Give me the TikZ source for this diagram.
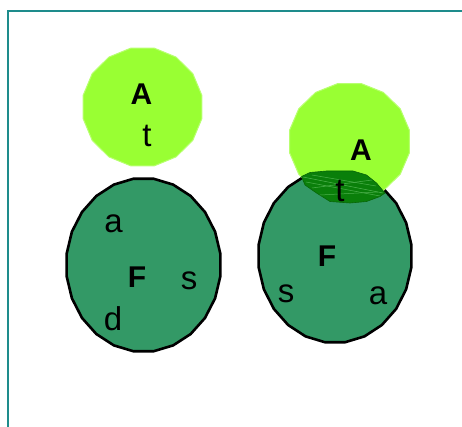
\documentclass[tikz,border=0pt]{standalone}
\usepackage{fontspec}
\setmainfont{Liberation Sans}
\definecolor{lime}{HTML}{99FF33}
\definecolor{limeedge}{HTML}{B8FF70}
\definecolor{fgreen}{HTML}{339966}
\definecolor{lensgreen}{HTML}{0A7F0A}
\definecolor{lensline}{HTML}{4CB04C}
\definecolor{frame}{HTML}{1E8C8C}
\begin{document}
\begin{tikzpicture}[x=1pt,y=-1pt,
  setA/.style={fill=lime,draw=limeedge,line width=1pt,line join=round},
  setF/.style={fill=fgreen,draw=black,line width=2.6pt,line join=round},
  lbl/.style={anchor=base,inner sep=0pt,font=\fontsize{33}{40}\selectfont},
  bold/.style={anchor=base,inner sep=0pt,font=\fontsize{30}{36}\selectfont\bfseries}]
\useasboundingbox (0,0) rectangle (462,427);
\draw[frame,line width=1.6pt] (8,427) -- (8,11) -- (462,11);
% left pair
\path[setA] plot[domain=11.25:371.25,samples=17] ({142.5+60.5*cos(\x)},{107+60*sin(\x)}) -- cycle;
\path[setF] plot[domain=7.5:367.5,samples=25] ({143.5+77.5*cos(\x)},{265+87*sin(\x)}) -- cycle;
\node[bold] (A1) at (141.5,105) {A};
\node[lbl] (t1) at (147,147) {t};
\node[lbl] (a1) at (113.5,233) {a};
\node[bold] (F1) at (137,287) {F};
\node[lbl] (s1) at (189,289) {s};
\node[lbl] (d1) at (113,330) {d};
% right pair
\path[setF] plot[domain=7.5:367.5,samples=25] ({335+77*cos(\x)},{256+87*sin(\x)}) -- cycle;
\path[setA] plot[domain=11.25:371.25,samples=17] ({349.5+61*cos(\x)},{141.5+59*sin(\x)}) -- cycle;
\path[fill=lensgreen,draw=lensgreen!80!black,line width=0.6pt,line join=round]
  (301.5,176.5) -- (310,172.5) -- (326.5,171) -- (353,171) -- (366.5,175) -- (376.5,183) -- (385,193) -- (380,196.5) -- (366.5,201.5) -- (350,203) -- (330,201.5) -- (316.5,193) -- (305,185) -- cycle;
\draw[lensline,line width=0.5pt] (303,177) -- (383,193);
\draw[lensline,line width=0.5pt] (306,182) -- (380,196);
\draw[lensline,line width=0.5pt] (312,175) -- (376,186);
\draw[lensline,line width=0.5pt] (312,188) -- (372,180);
\draw[lensline,line width=0.5pt] (320,195) -- (378,192);
\node[bold] (A2) at (361,161) {A};
\node[lbl] (t2) at (340,202) {t};
\node[bold] (F2) at (327,266) {F};
\node[lbl] (s2) at (286,302) {s};
\node[lbl] (a2) at (378,304) {a};
\end{tikzpicture}
\end{document}
